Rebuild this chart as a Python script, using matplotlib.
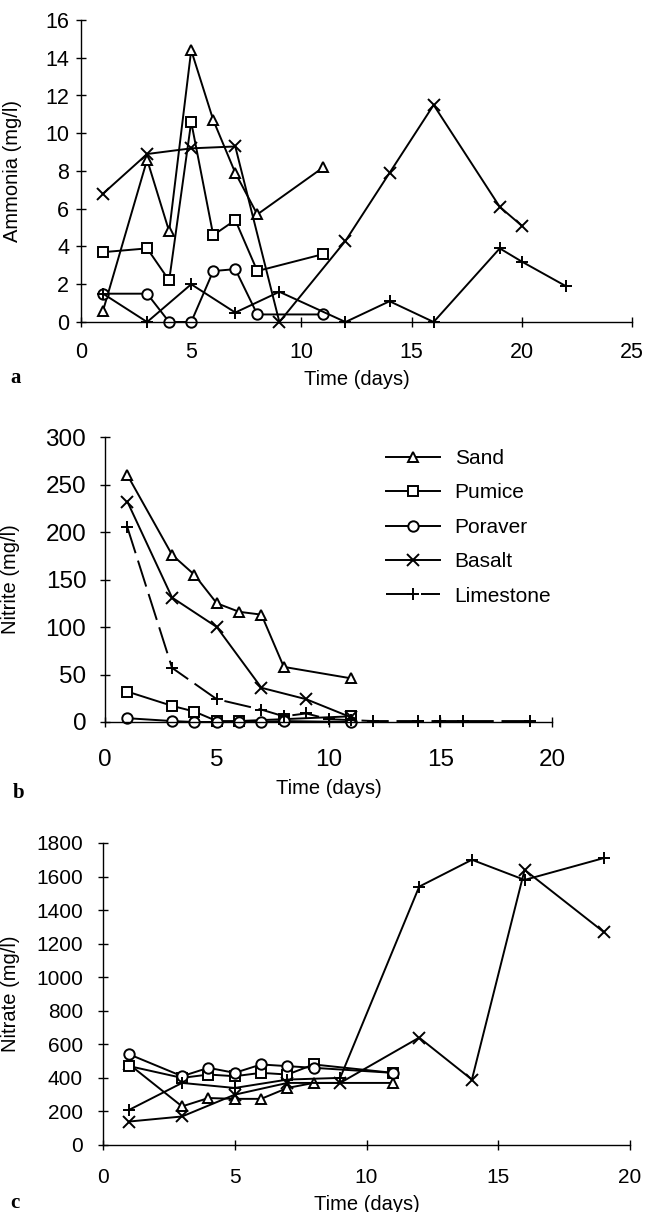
"""Three stacked panels: ammonia, nitrite and nitrate over time for five filter media."""

import matplotlib
matplotlib.use("Agg")
import matplotlib.pyplot as plt

plt.rcParams["font.family"] = ["Liberation Sans", "DejaVu Sans"]

MEDIA = ["Sand", "Pumice", "Poraver", "Basalt", "Limestone"]
MARKERS = {"Sand": "^", "Pumice": "s", "Poraver": "o", "Basalt": "x", "Limestone": "+"}

# panel a, ammonia (mg/l)
sand_a_days = [1, 3, 4, 5, 6, 7, 8, 11]
sand_a = [0.6, 8.6, 4.8, 14.4, 10.7, 7.9, 5.7, 8.2]
pumice_a_days = [1, 3, 4, 5, 6, 7, 8, 11]
pumice_a = [3.7, 3.9, 2.2, 10.6, 4.6, 5.4, 2.7, 3.6]
poraver_a_days = [1, 3, 4, 5, 6, 7, 8, 11]
poraver_a = [1.5, 1.5, 0, 0, 2.7, 2.8, 0.4, 0.4]
basalt_a_days = [1, 3, 5, 7, 9, 12, 14, 16, 19, 20]
basalt_a = [6.8, 8.9, 9.2, 9.3, 0, 4.3, 7.9, 11.5, 6.1, 5.1]
limestone_a_days = [1, 3, 5, 7, 9, 12, 14, 16, 19, 20, 22]
limestone_a = [1.5, 0, 2.0, 0.5, 1.6, 0, 1.1, 0, 3.9, 3.2, 1.9]

# panel b, nitrite (mg/l)
sand_b_days = [1, 3, 4, 5, 6, 7, 8, 11]
sand_b = [260, 176, 155, 125, 116, 113, 58, 46]
pumice_b_days = [1, 3, 4, 5, 6, 8, 11]
pumice_b = [32, 17, 11, 1, 1, 3, 6]
poraver_b_days = [1, 3, 4, 5, 6, 7, 8, 11]
poraver_b = [4, 1, 0, 0, 0, 0, 1, 0]
basalt_b_days = [1, 3, 5, 7, 9, 11]
basalt_b = [232, 131, 100, 36, 24, 5]
limestone_b_days = [1, 3, 5, 7, 8, 9, 10, 11, 12, 14, 15, 16, 19]
limestone_b = [205, 57, 24, 13, 6, 9, 3, 2, 1, 1, 1, 1, 1]

# panel c, nitrate (mg/l)
sand_c_days = [1, 3, 4, 5, 6, 7, 8, 11]
sand_c = [480, 230, 280, 275, 275, 340, 370, 370]
pumice_c_days = [1, 3, 4, 5, 6, 7, 8, 11]
pumice_c = [470, 400, 420, 410, 430, 420, 480, 430]
poraver_c_days = [1, 3, 4, 5, 6, 7, 8, 11]
poraver_c = [540, 410, 460, 430, 480, 470, 460, 430]
basalt_c_days = [1, 3, 5, 7, 9, 12, 14, 16, 19]
basalt_c = [140, 170, 300, 370, 370, 640, 390, 1640, 1270]
limestone_c_days = [1, 3, 5, 7, 9, 12, 14, 16, 19]
limestone_c = [210, 370, 340, 390, 400, 1540, 1700, 1580, 1710]

PANELS = [
    dict(series={"Sand": (sand_a_days, sand_a), "Pumice": (pumice_a_days, pumice_a),
                 "Poraver": (poraver_a_days, poraver_a), "Basalt": (basalt_a_days, basalt_a),
                 "Limestone": (limestone_a_days, limestone_a)},
         ylabel="Ammonia (mg/l)", ymax=16, ystep=2, xmax=25, letter="a",
         rect_px=(81, 20, 632, 322), tick_fs=15.5, ypad=5, xpad=11,
         ylab_x=-0.107, xlab_y=-0.16, letter_px=(10, 378), dashed=False),
    dict(series={"Sand": (sand_b_days, sand_b), "Pumice": (pumice_b_days, pumice_b),
                 "Poraver": (poraver_b_days, poraver_b), "Basalt": (basalt_b_days, basalt_b),
                 "Limestone": (limestone_b_days, limestone_b)},
         ylabel="Nitrite (mg/l)", ymax=300, ystep=50, xmax=20, letter="b",
         rect_px=(105, 437, 552, 722), tick_fs=17.5, ypad=10, xpad=16,
         ylab_x=-0.19, xlab_y=-0.2, letter_px=(13, 793), dashed=True),
    dict(series={"Sand": (sand_c_days, sand_c), "Pumice": (pumice_c_days, pumice_c),
                 "Poraver": (poraver_c_days, poraver_c), "Basalt": (basalt_c_days, basalt_c),
                 "Limestone": (limestone_c_days, limestone_c)},
         ylabel="Nitrate (mg/l)", ymax=1800, ystep=200, xmax=20, letter="c",
         rect_px=(103, 843, 630, 1145), tick_fs=15, ypad=11, xpad=13,
         ylab_x=-0.157, xlab_y=-0.165, letter_px=(10, 1203), dashed=False),
]

W, H = 645, 1212


def draw_panel(fig, p):
    x0, y0, x1, y1 = p["rect_px"]
    ax = fig.add_axes([x0 / W, 1 - y1 / H, (x1 - x0) / W, (y1 - y0) / H])
    for name in MEDIA:
        days, vals = p["series"][name]
        style = dict(color="black", lw=1.4, marker=MARKERS[name], markersize=7.5,
                     markerfacecolor="white", markeredgecolor="black",
                     markeredgewidth=1.4, label=name, clip_on=False)
        if name in ("Basalt", "Limestone"):
            style["markersize"] = 9
        line, = ax.plot(days, vals, **style)
        if p["dashed"] and name == "Limestone":
            line.set_dashes((14, 4))
    ax.set_xlim(0, p["xmax"])
    ax.set_ylim(0, p["ymax"])
    ax.set_xticks(range(0, p["xmax"] + 1, 5))
    ax.set_yticks(range(0, p["ymax"] + 1, p["ystep"]))
    for side in ("top", "right"):
        ax.spines[side].set_visible(False)
    for side in ("left", "bottom"):
        ax.spines[side].set_linewidth(1.0)
    ax.tick_params(axis="both", direction="inout", length=7, width=1.0,
                   labelsize=p["tick_fs"])
    ax.tick_params(axis="y", pad=p["ypad"])
    ax.tick_params(axis="x", pad=p["xpad"])
    ax.set_ylabel(p["ylabel"], fontsize=14.5)
    ax.set_xlabel("Time (days)", fontsize=14.5, va="top")
    ax.yaxis.set_label_coords(p["ylab_x"], 0.5)
    ax.xaxis.set_label_coords(0.5, p["xlab_y"])
    lx, ly = p["letter_px"]
    fig.text(lx / W, 1 - ly / H, p["letter"], fontsize=15, fontweight="bold",
             family="Liberation Serif", va="center", ha="left")
    return ax


fig = plt.figure(figsize=(W / 100, H / 100), dpi=100)
axes = [draw_panel(fig, p) for p in PANELS]

axes[1].legend(loc="upper left", bbox_to_anchor=(386 / W, 1 - 449 / H),
               bbox_transform=fig.transFigure, frameon=False, fontsize=15,
               handlelength=2.6, handletextpad=0.7, labelspacing=0.74,
               borderpad=0, borderaxespad=0)

fig.savefig("out.png", dpi=100)
